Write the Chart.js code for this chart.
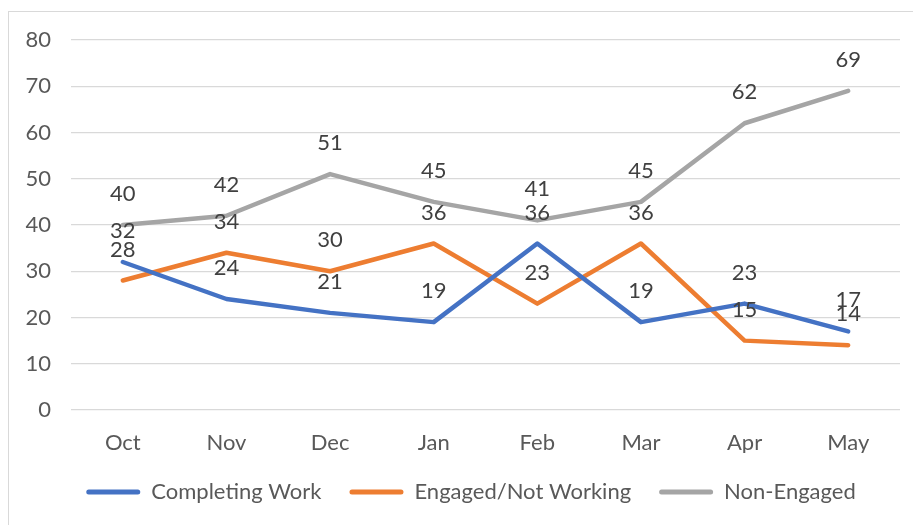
<!DOCTYPE html>
<html>
<head>
<meta charset="utf-8">
<script src="https://cdn.jsdelivr.net/npm/chart.js@4"></script>
<style>
    body { margin: 0; background: #fff; }
    #frame {
        position: absolute; left: 8px; top: 11px; width: 1000px; height: 1000px;
        border-left: 1px solid #d9d9d9; border-top: 1px solid #d9d9d9;
    }
    #wrap { position: absolute; left: 0; top: 0; width: 913px; height: 525px; }
</style>
</head>
<body>
<div id="frame"></div>
<div id="wrap"><canvas id="chart"></canvas></div>
<script>
const months = ["Oct", "Nov", "Dec", "Jan", "Feb", "Mar", "Apr", "May"];
const completingWork = [32, 24, 21, 19, 36, 19, 23, 17];
const engagedNotWorking = [28, 34, 30, 36, 23, 36, 15, 14];
const nonEngaged = [40, 42, 51, 45, 41, 45, 62, 69];

const FONT = "Lato, 'Noto Sans', sans-serif";

// draws the value above every point, like the Excel data labels
const valueLabels = {
    id: "valueLabels",
    afterDatasetsDraw(chart) {
        const ctx = chart.ctx;
        ctx.save();
        ctx.font = "22px " + FONT;
        ctx.fillStyle = "#404040";
        ctx.textAlign = "center";
        ctx.textBaseline = "middle";
        chart.data.datasets.forEach((ds, i) => {
            chart.getDatasetMeta(i).data.forEach((pt, j) => {
                ctx.fillText(String(ds.data[j]), pt.x, pt.y - 31);
            });
        });
        ctx.restore();
    }
};

// the legend in the original sits a bit right of the canvas centre
const legendShift = {
    id: "legendShift",
    afterLayout(chart) {
        chart.legend.left += 21;
        chart.legend.right += 21;
    }
};

const line = (label, data, color) => ({
    label,
    data,
    borderColor: color,
    backgroundColor: color,
    borderWidth: 4.5,
    borderCapStyle: "round",
    borderJoinStyle: "round",
    pointRadius: 0,
    tension: 0
});

new Chart(document.getElementById("chart"), {
    type: "line",
    data: {
        labels: months,
        datasets: [
            line("Completing Work", completingWork, "#4472c4"),
            line("Engaged/Not Working", engagedNotWorking, "#ed7d31"),
            line("Non-Engaged", nonEngaged, "#a5a5a5")
        ]
    },
    plugins: [valueLabels, legendShift],
    options: {
        responsive: true,
        maintainAspectRatio: false,
        animation: false,
        layout: { padding: { top: 40, right: 13, bottom: 12, left: 0 } },
        plugins: {
            tooltip: { enabled: false },
            legend: {
                position: "bottom",
                labels: {
                    font: { family: FONT, size: 22 },
                    color: "#595959",
                    boxWidth: 54,
                    boxHeight: 5,
                    useBorderRadius: true,
                    borderRadius: 2.5,
                    padding: 28,
                    generateLabels: (chart) =>
                        Chart.defaults.plugins.legend.labels
                            .generateLabels(chart)
                            .map((l) => ({ ...l, lineWidth: 0 }))
                }
            }
        },
        scales: {
            x: {
                offset: true,
                grid: { display: false },
                border: { display: false },
                ticks: {
                    font: { family: FONT, size: 22 },
                    color: "#595959",
                    padding: 12
                },
                afterFit: (axis) => { axis.height = 43; }
            },
            y: {
                min: 0,
                max: 80,
                grid: { color: "#d9d9d9", lineWidth: 1.3, drawTicks: false },
                border: { display: false },
                ticks: {
                    stepSize: 10,
                    font: { family: FONT, size: 22 },
                    color: "#595959",
                    padding: 20
                },
                afterFit: (axis) => { axis.width = 71; }
            }
        }
    }
});
</script>
</body>
</html>
